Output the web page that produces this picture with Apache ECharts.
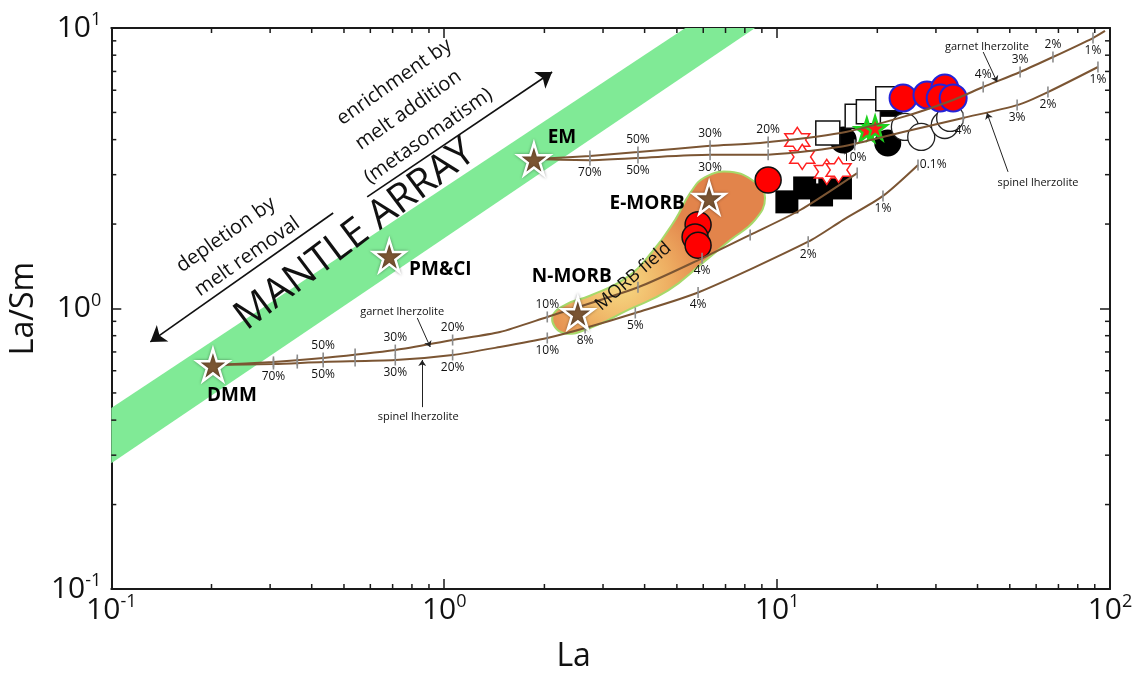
<!DOCTYPE html>
<html>
<head>
<meta charset="utf-8">
<script src="https://cdn.jsdelivr.net/npm/echarts@6/dist/echarts.min.js"></script>
<style>
  html, body { margin: 0; padding: 0; background: #fff; }
  #chart { width: 1141px; height: 691px; }
</style>
</head>
<body>
<div id="chart"></div>
<script>
// ---------- data (La in ppm, La/Sm ratio) ----------

// tick values of the two log axes
const majorLa = [0.1, 1, 10, 100];
const majorLaSm = [0.1, 1, 10];
const minorLa = [0.2, 0.3, 0.4, 0.5, 0.6, 0.7, 0.8, 0.9, 2, 3, 4, 5, 6, 7, 8, 9, 20, 30, 40, 50, 60, 70, 80, 90];
const minorLaSm = [0.2, 0.3, 0.4, 0.5, 0.6, 0.7, 0.8, 0.9, 2, 3, 4, 5, 6, 7, 8, 9];

// mantle array band outline
const mantleArrayBand = [[0.1, 0.281], [8.59, 10], [5.30, 10], [0.1, 0.442]];

// mantle reservoirs
const reservoirNames = ['DMM', 'PM&CI', 'EM', 'E-MORB', 'N-MORB'];
const reservoirLa = [0.202, 0.684, 1.86, 6.25, 2.52];
const reservoirLaSm = [0.629, 1.54, 3.41, 2.48, 0.964];

// MORB field outline
const morbField = [
  [2.11, 0.925], [2.31, 1.03], [2.74, 1.11], [3.50, 1.28], [4.21, 1.59], [4.94, 2.07],
  [5.48, 2.58], [6.08, 2.94], [7.22, 3.07], [8.59, 2.82], [9.20, 2.48], [8.59, 2.07],
  [7.22, 1.75], [6.00, 1.46], [4.71, 1.16], [3.57, 0.988], [2.74, 0.852], [2.28, 0.818]
];

// non-modal batch melting curves
const dmmGarnetLine = [[0.202, 0.629], [0.307, 0.645], [0.433, 0.666], [0.713, 0.711], [1.06, 0.772], [1.47, 0.824], [2.04, 0.933], [3.82, 1.19], [5.95, 1.51], [8.30, 1.83], [11.7, 2.24], [17.4, 3.04]];
const dmmGarnetTicks = [[0.307, 0.645], [0.362, 0.655], [0.433, 0.666], [0.540, 0.688], [0.713, 0.711], [1.06, 0.772], [2.04, 0.933], [3.82, 1.19], [5.95, 1.51], [8.30, 1.83], [17.4, 3.04]];
const dmmGarnetPct = ['', '', '50%', '', '30%', '20%', '10%', '', '4%', '', ''];

const dmmSpinelLine = [[0.202, 0.629], [0.307, 0.634], [0.433, 0.645], [0.713, 0.655], [1.06, 0.683], [1.47, 0.729], [2.04, 0.785], [2.65, 0.852], [3.75, 0.964], [5.79, 1.14], [12.4, 1.73], [15.8, 2.07], [20.8, 2.52], [26.5, 3.25]];
const dmmSpinelTicks = [[0.307, 0.634], [0.362, 0.639], [0.433, 0.645], [0.540, 0.650], [0.713, 0.655], [1.06, 0.683], [2.04, 0.785], [2.65, 0.852], [3.75, 0.964], [5.79, 1.14], [12.4, 1.73], [20.8, 2.52], [26.5, 3.25]];
const dmmSpinelPct = ['70%', '', '50%', '', '30%', '20%', '10%', '8%', '5%', '4%', '2%', '1%', '0.1%'];

const emGarnetLine = [[1.86, 3.41], [2.74, 3.50], [3.82, 3.61], [6.29, 3.80], [8.89, 3.89], [15.5, 4.22], [23.9, 4.82], [33.8, 5.54], [41.6, 6.16], [53.7, 6.97], [67.4, 7.88], [88.9, 9.21], [96.6, 9.76]];
const emGarnetTicks = [[2.74, 3.50], [3.82, 3.61], [6.29, 3.80], [9.40, 3.92], [41.6, 6.16], [53.7, 6.97], [67.4, 7.88], [88.9, 9.21]];
const emGarnetPct = ['', '50%', '30%', '20%', '4%', '3%', '2%', '1%'];

const emSpinelLine = [[1.86, 3.41], [2.74, 3.38], [3.82, 3.44], [6.29, 3.53], [8.89, 3.53], [15.5, 3.77], [23.9, 4.26], [36.2, 4.78], [52.6, 5.31], [65.1, 5.91], [92.0, 7.26]];
const emSpinelTicks = [[2.74, 3.38], [3.82, 3.44], [6.29, 3.53], [9.40, 3.53], [17.1, 3.83], [36.2, 4.78], [52.6, 5.31], [65.1, 5.91], [92.0, 7.26]];
const emSpinelPct = ['70%', '50%', '30%', '', '10%', '4%', '3%', '2%', '1%'];

// samples
const redCircles = [[5.79, 1.99], [5.67, 1.80], [5.79, 1.68], [9.40, 2.87]];
const blueRimCircles = [[23.9, 5.63], [28.2, 5.77], [31.9, 6.11], [30.9, 5.63], [33.8, 5.63]];
const openCircles = [[24.2, 4.44], [27.1, 4.09], [31.9, 4.51], [33.1, 4.78]];
const blackCircles = [[15.8, 3.99], [21.5, 3.89]];
const greenStars = [[18.6, 4.33], [19.7, 4.40]];
const openSquares = [[14.2, 4.22], [17.4, 4.85], [18.8, 5.03], [21.5, 5.60]];
const blackSquares = [[10.7, 2.40], [12.1, 2.69], [13.6, 2.54], [15.5, 2.69], [14.4, 2.80], [22.0, 5.30]];
const openHexagrams = [[11.5, 3.99], [11.9, 3.47], [14.1, 3.07], [15.3, 3.12]];

// annotations
const noteText = ['MANTLE ARRAY', 'depletion by', 'melt removal', 'enrichment by', 'melt addition', '(metasomatism)',
  'MORB field', 'garnet lherzolite', 'spinel lherzolite', 'garnet lherzolite', 'spinel lherzolite'];
const noteAt = [[0.540, 1.83], [0.221, 1.83], [0.256, 1.53], [0.708, 6.42], [0.780, 5.10], [0.896, 4.12],
  [3.70, 1.30], [0.748, 0.972], [0.835, 0.410], [42.7, 8.56], [60.8, 2.80]];
const bigArrows = [
  [[0.464, 2.19], [0.131, 0.760]],
  [[0.587, 2.50], [2.11, 6.97]]
];
const pointerArrows = [
  [[0.830, 0.925], [0.908, 0.729]],
  [[0.859, 0.445], [0.859, 0.655]],
  [[41.6, 8.21], [45.8, 6.42]],
  [[49.4, 3.07], [42.7, 4.98]]
];

// ---------- styling ----------
const FONT = '"Open Sans", "Noto Sans", sans-serif';
const BROWN = '#7b5533';
const STAR = 'path://M50,0 L61.23,34.55 L97.55,34.55 L68.16,55.9 L79.39,90.45 L50,69.1 L20.61,90.45 L31.84,55.9 L2.45,34.55 L38.77,34.55 Z';
const HEXAGRAM = 'path://M50,0 L64.43,25 L93.3,25 L78.87,50 L93.3,75 L64.43,75 L50,100 L35.57,75 L6.7,75 L21.13,50 L6.7,25 L35.57,25 Z';

const noteAngle = [37, 35, 35, 35, 35, 35, 41, 0, 0, 0, 0];
const noteKind = ['title', 'note', 'note', 'note', 'note', 'note', 'field', 'small', 'small', 'small', 'small'];
const noteFont = {
  title: { fontSize: 40, fontWeight: 'normal' },
  note: { fontSize: 20, fontWeight: 'normal' },
  field: { fontSize: 18, fontWeight: 'normal' },
  small: { fontSize: 11, fontWeight: 'normal' }
};
const reservoirLabelOffset = [[19, 31], [51, 14], [28, -21], [-62, 6], [-6, -36]];

const sideOf = (texts, base, exceptions) => texts.map(t => (exceptions[t] || base));

// ---------- helpers ----------
function polygonSeries(points, style, z, smooth) {
  return {
    type: 'custom', coordinateSystem: 'cartesian2d', z: z, silent: true,
    data: [[1, 1]],
    renderItem: (params, api) => ({
      type: 'polygon',
      shape: { points: points.map(p => api.coord(p)), smooth: smooth || 0 },
      style: style
    })
  };
}

function curveSeries(points) {
  return {
    type: 'line', z: 4, silent: true, showSymbol: false, smooth: 0.25,
    lineStyle: { color: BROWN, width: 2 },
    data: points
  };
}

function tickSeries(points, texts, sides) {
  return {
    type: 'scatter', z: 5, silent: true,
    symbol: 'rect', symbolSize: [1.6, 11],
    itemStyle: { color: '#8c8c8c', opacity: 1 },
    label: { show: true, formatter: '{b}', fontSize: 12, fontFamily: FONT, color: '#111', distance: 1 },
    data: points.map((p, i) => ({ value: p, name: texts[i], label: { position: sides[i] } }))
  };
}

function markerSeries(points, symbol, size, itemStyle, z) {
  return {
    type: 'scatter', z: z, silent: true, symbol: symbol, symbolSize: size,
    itemStyle: Object.assign({ opacity: 1 }, itemStyle), data: points
  };
}

const axisFrame = { lineStyle: { color: '#1a1a1a', width: 2 } };
const majorTick = { inside: true, length: 10, lineStyle: { color: '#1a1a1a', width: 1.5 } };
const powerLabel = {
  formatter: v => '{b|10}{s|' + Math.round(Math.log10(v)) + '}',
  rich: {
    b: { fontSize: 30, fontFamily: FONT, color: '#111', lineHeight: 34 },
    s: { fontSize: 18, fontFamily: FONT, color: '#111', lineHeight: 8, verticalAlign: 'top' }
  }
};

const chart = echarts.init(document.getElementById('chart'), null, { renderer: 'canvas' });

const option = {
  animation: false,
  backgroundColor: '#fff',
  grid: { left: 111, right: 31, top: 28, bottom: 102, containLabel: false },
  xAxis: [
    {
      type: 'log', logBase: 10, min: majorLa[0], max: majorLa[majorLa.length - 1], position: 'bottom',
      axisLine: axisFrame, axisTick: majorTick, splitLine: { show: false },
      axisLabel: Object.assign({ margin: 4 }, powerLabel),
      name: 'La', nameLocation: 'middle', nameGap: 52,
      nameTextStyle: { fontSize: 32, fontFamily: FONT, color: '#111', padding: [0, 74, 0, 0] }
    },
    {
      type: 'log', logBase: 10, min: majorLa[0], max: majorLa[majorLa.length - 1], position: 'top',
      axisLine: axisFrame, axisTick: majorTick, splitLine: { show: false }, axisLabel: { show: false }
    }
  ],
  yAxis: [
    {
      type: 'log', logBase: 10, min: majorLaSm[0], max: majorLaSm[majorLaSm.length - 1], position: 'left',
      axisLine: axisFrame, axisTick: majorTick, splitLine: { show: false },
      axisLabel: Object.assign({ margin: 10 }, powerLabel),
      name: 'La/Sm', nameLocation: 'middle', nameGap: 60, nameRotate: 90,
      nameTextStyle: { fontSize: 32, fontFamily: FONT, color: '#111' }
    },
    {
      type: 'log', logBase: 10, min: majorLaSm[0], max: majorLaSm[majorLaSm.length - 1], position: 'right',
      axisLine: axisFrame, axisTick: majorTick, splitLine: { show: false }, axisLabel: { show: false }
    }
  ],
  series: [
    // minor ticks on bottom and top edges
    {
      type: 'custom', coordinateSystem: 'cartesian2d', z: 10, silent: true,
      data: minorLa.map(v => [v, 1]),
      renderItem: (params, api) => {
        const cs = params.coordSys;
        const x = api.coord([api.value(0), 1])[0];
        const b = cs.y + cs.height, t = cs.y;
        const st = { stroke: '#1a1a1a', lineWidth: 1.5 };
        return { type: 'group', children: [
          { type: 'line', shape: { x1: x, y1: b, x2: x, y2: b - 5 }, style: st },
          { type: 'line', shape: { x1: x, y1: t, x2: x, y2: t + 5 }, style: st }
        ] };
      }
    },
    // minor ticks on left and right edges
    {
      type: 'custom', coordinateSystem: 'cartesian2d', z: 10, silent: true,
      data: minorLaSm.map(v => [1, v]),
      renderItem: (params, api) => {
        const cs = params.coordSys;
        const y = api.coord([1, api.value(1)])[1];
        const l = cs.x, r = cs.x + cs.width;
        const st = { stroke: '#1a1a1a', lineWidth: 1.5 };
        return { type: 'group', children: [
          { type: 'line', shape: { x1: l, y1: y, x2: l + 5, y2: y }, style: st },
          { type: 'line', shape: { x1: r, y1: y, x2: r - 5, y2: y }, style: st }
        ] };
      }
    },
    // mantle array
    polygonSeries(mantleArrayBand, { fill: '#80ea96' }, 1),
    // MORB field
    polygonSeries(morbField, {
      fill: {
        type: 'radial', x: 0.32, y: 0.68, r: 0.55,
        colorStops: [{ offset: 0, color: '#f7dc84' }, { offset: 0.55, color: '#eeae62' }, { offset: 1, color: '#e2844b' }]
      },
      stroke: '#a6d96a', lineWidth: 2
    }, 2, 0.45),
    // samples
    markerSeries(blackSquares, 'rect', 23, { color: '#000' }, 3),
    markerSeries(blackCircles, 'circle', 27, { color: '#000' }, 3),
    markerSeries(openSquares, 'rect', 24, { color: '#fff', borderColor: '#111', borderWidth: 1.5 }, 3),
    markerSeries(openCircles, 'circle', 27, { color: '#fff', borderColor: '#222', borderWidth: 1.3 }, 3),
    markerSeries(greenStars, STAR, 23, { color: '#ff1a1a', borderColor: '#1fd21f', borderWidth: 2.5 }, 3),
    markerSeries(blueRimCircles, 'circle', 27, { color: '#ff0000', borderColor: '#2323d8', borderWidth: 2 }, 3),
    markerSeries(redCircles, 'circle', 26, { color: '#ff0000', borderColor: '#111', borderWidth: 1.5 }, 3),
    markerSeries(openHexagrams, HEXAGRAM, 25, { color: '#fff', borderColor: '#ff2020', borderWidth: 1.5 }, 3),
    // melting curves
    curveSeries(dmmGarnetLine),
    curveSeries(dmmSpinelLine),
    curveSeries(emGarnetLine),
    curveSeries(emSpinelLine),
    tickSeries(dmmGarnetTicks, dmmGarnetPct, sideOf(dmmGarnetPct, 'top', { '4%': 'bottom' })),
    tickSeries(dmmSpinelTicks, dmmSpinelPct, sideOf(dmmSpinelPct, 'bottom', { '0.1%': 'right' })),
    tickSeries(emGarnetTicks, emGarnetPct, sideOf(emGarnetPct, 'top', { '1%': 'bottom' })),
    tickSeries(emSpinelTicks, emSpinelPct, sideOf(emSpinelPct, 'bottom', {})),
    // arrows
    {
      type: 'lines', coordinateSystem: 'cartesian2d', z: 7, silent: true, polyline: false,
      symbol: ['none', 'arrow'], symbolSize: 15,
      lineStyle: { color: '#111', width: 1.6, opacity: 1 },
      data: bigArrows.map(c => ({ coords: c }))
    },
    {
      type: 'lines', coordinateSystem: 'cartesian2d', z: 7, silent: true, polyline: false,
      symbol: ['none', 'arrow'], symbolSize: 6,
      lineStyle: { color: '#222', width: 1, opacity: 1 },
      data: pointerArrows.map(c => ({ coords: c }))
    },
    // reservoirs
    {
      type: 'scatter', z: 8, silent: true, symbol: STAR, symbolSize: 32,
      itemStyle: { color: BROWN, opacity: 1, borderColor: '#fff', borderWidth: 2.5, shadowBlur: 3, shadowColor: 'rgba(0,0,0,0.35)' },
      label: { show: true, position: 'inside', formatter: '{b}', fontSize: 19, fontWeight: 'bold', fontFamily: FONT, color: '#000' },
      data: reservoirNames.map((n, i) => ({
        name: n, value: [reservoirLa[i], reservoirLaSm[i]],
        label: { offset: reservoirLabelOffset[i] }
      }))
    },
    // text annotations
    {
      type: 'custom', coordinateSystem: 'cartesian2d', z: 9, silent: true,
      data: noteAt,
      renderItem: (params, api) => {
        const i = params.dataIndex;
        const p = api.coord(noteAt[i]);
        const f = noteFont[noteKind[i]];
        return {
          type: 'text', x: p[0], y: p[1], rotation: noteAngle[i] * Math.PI / 180,
          style: {
            text: noteText[i], fill: '#111', fontSize: f.fontSize, fontWeight: f.fontWeight,
            fontFamily: FONT, align: 'center', verticalAlign: 'middle'
          }
        };
      }
    }
  ]
};

chart.setOption(option);
</script>
</body>
</html>
